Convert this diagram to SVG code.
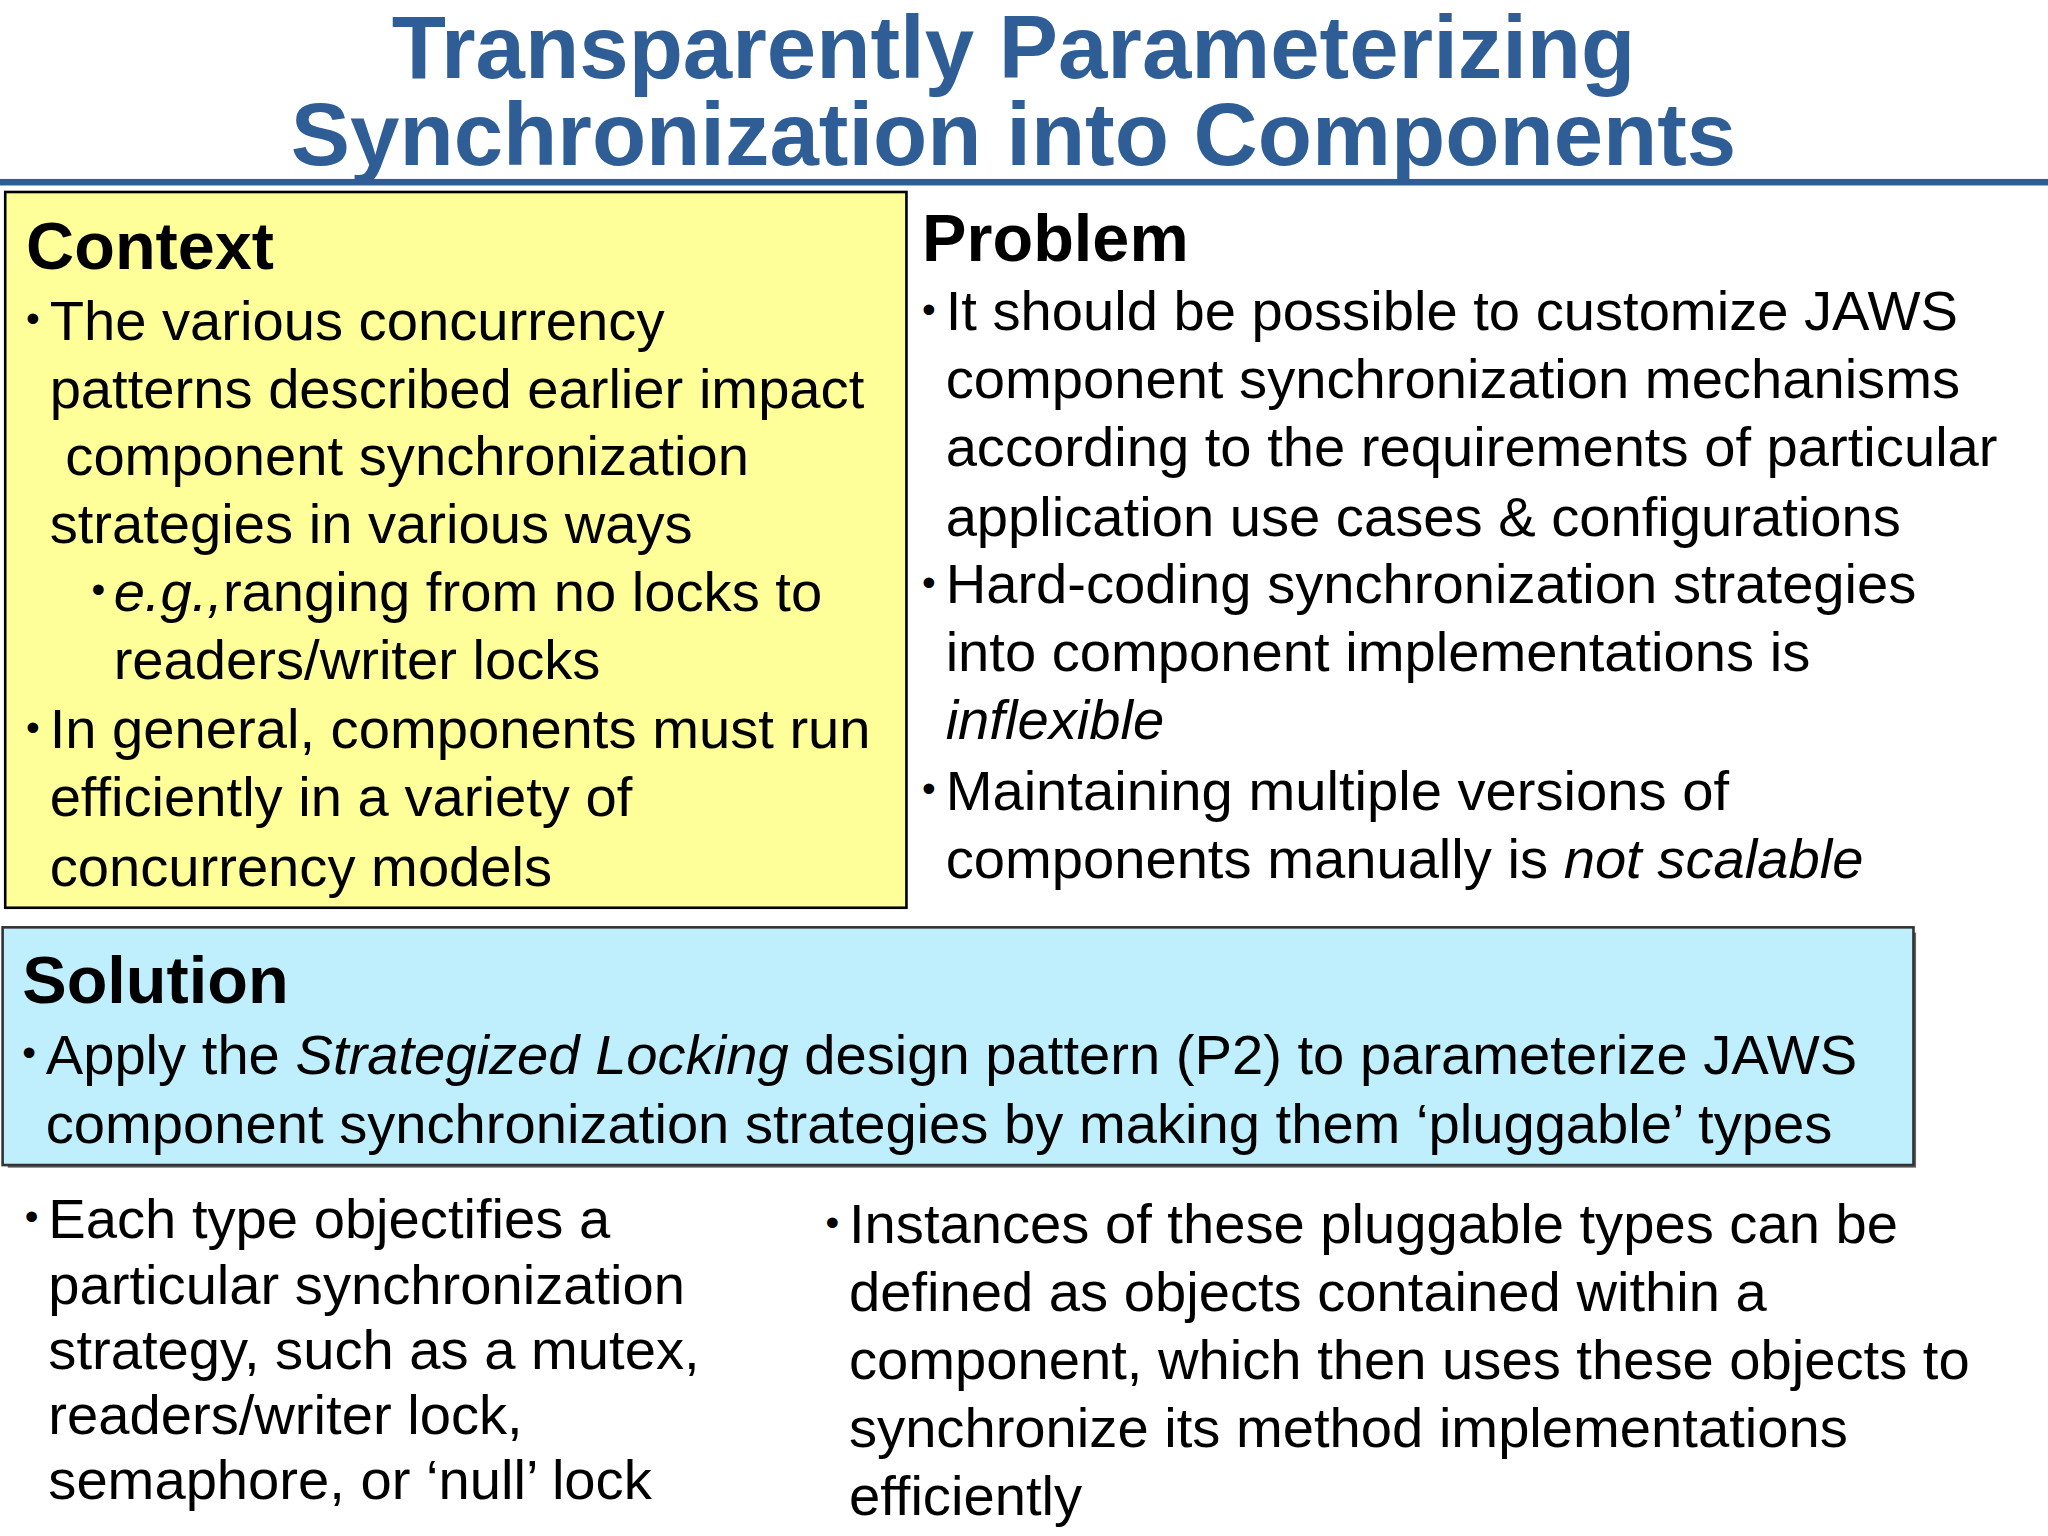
<svg xmlns="http://www.w3.org/2000/svg" width="2048" height="1536" viewBox="0 0 2048 1536">
<style>
.t{font-family:"Liberation Sans",Arial,sans-serif;font-size:43px;fill:#000}
.h{font-family:"Liberation Sans",Arial,sans-serif;font-size:51px;font-weight:bold;fill:#000}
.ti{font-family:"Liberation Sans",Arial,sans-serif;font-size:68px;font-weight:bold;fill:#2F5D95}
.b{font-family:"Liberation Sans",Arial,sans-serif;font-size:30px;fill:#000}
</style>
<rect width="2048" height="1536" fill="#fff"/>
<g transform="scale(1.30612)">
<g id="title">
<text class="ti" x="776" y="60" text-anchor="middle">Transparently Parameterizing</text>
<text class="ti" x="776" y="126" text-anchor="middle">Synchronization into Components</text>
<rect x="0" y="137" width="1568" height="5" fill="#2F5D95"/>
</g>
<g id="context">
<rect x="4" y="147" width="690" height="548" fill="#FFFF99" stroke="#000" stroke-width="2"/>
<text class="h" x="20" y="206">Context</text>
<text class="b" x="20" y="254">•</text>
<text class="t" x="38" y="260">The various concurrency</text>
<text class="t" x="38" y="312">patterns described earlier impact</text>
<text class="t" x="50" y="364">component synchronization</text>
<text class="t" x="38" y="416">strategies in various ways</text>
<text class="b" x="70" y="462">•</text>
<text class="t" x="87" y="468"><tspan font-style="italic">e.g.,</tspan>ranging from no locks to</text>
<text class="t" x="87" y="520">readers/writer locks</text>
<text class="b" x="20" y="567">•</text>
<text class="t" x="38" y="573">In general, components must run</text>
<text class="t" x="38" y="625">efficiently in a variety of</text>
<text class="t" x="38" y="678">concurrency models</text>
</g>
<g id="problem">
<text class="h" x="706" y="200">Problem</text>
<text class="b" x="706" y="247">•</text>
<text class="t" x="724" y="253">It should be possible to customize JAWS</text>
<text class="t" x="724" y="305">component  synchronization mechanisms</text>
<text class="t" x="724" y="357">according to the requirements of particular</text>
<text class="t" x="724" y="410">application use cases &amp; configurations</text>
<text class="b" x="706" y="456">•</text>
<text class="t" x="724" y="462">Hard-coding synchronization strategies</text>
<text class="t" x="724" y="514">into component implementations is</text>
<text class="t" x="724" y="566" font-style="italic">inflexible</text>
<text class="b" x="706" y="614">•</text>
<text class="t" x="724" y="620">Maintaining multiple versions of</text>
<text class="t" x="724" y="672">components manually is <tspan font-style="italic">not scalable</tspan></text>
</g>
<g id="solution">
<rect x="6" y="714" width="1461" height="180" fill="#666"/>
<rect x="2" y="710" width="1463" height="182" fill="#BFEEFD" stroke="#333" stroke-width="2"/>
<text class="h" x="17" y="768">Solution</text>
<text class="b" x="17" y="816">•</text>
<text class="t" x="35" y="822">Apply the <tspan font-style="italic">Strategized Locking</tspan> design pattern (P2) to parameterize JAWS</text>
<text class="t" x="35" y="875">component synchronization strategies by making them ‘pluggable’ types</text>
</g>
<g id="bottom-left">
<text class="b" x="19" y="942">•</text>
<text class="t" x="37" y="948">Each type objectifies a</text>
<text class="t" x="37" y="998">particular synchronization</text>
<text class="t" x="37" y="1048">strategy, such as a mutex,</text>
<text class="t" x="37" y="1098">readers/writer lock,</text>
<text class="t" x="37" y="1148">semaphore, or ‘null’ lock</text>
</g>
<g id="bottom-right">
<text class="b" x="632" y="946">•</text>
<text class="t" x="650" y="952">Instances of these pluggable types can be</text>
<text class="t" x="650" y="1004">defined as objects contained within a</text>
<text class="t" x="650" y="1056">component, which then uses these objects to</text>
<text class="t" x="650" y="1108">synchronize its method implementations</text>
<text class="t" x="650" y="1160">efficiently</text>
</g>
<g id="connectors"/>
</g>
</svg>
